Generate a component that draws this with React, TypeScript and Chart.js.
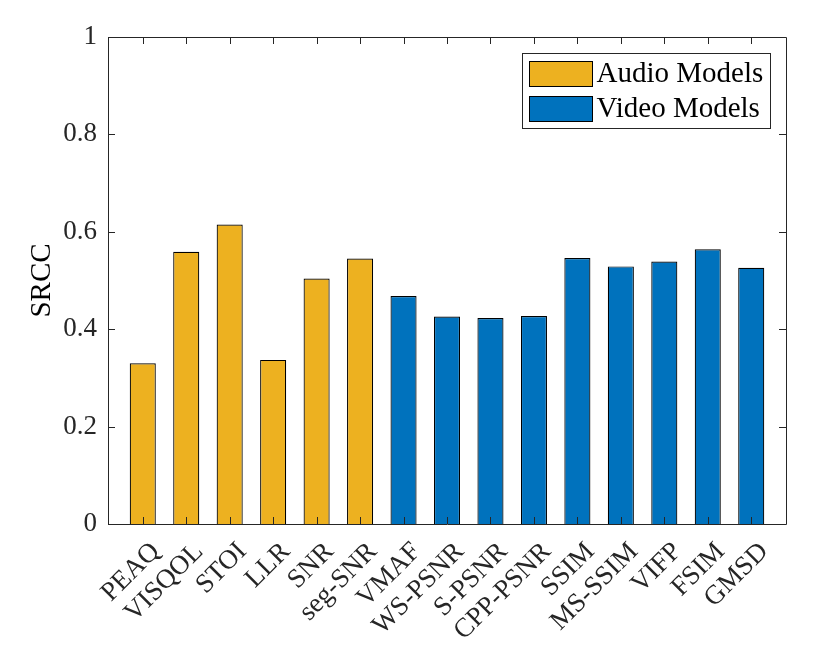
import { useEffect, useRef } from "react";
import { Chart, registerables } from "chart.js";

Chart.register(...registerables);

const audioModels = ["PEAQ", "VISQOL", "STOI", "LLR", "SNR", "seg-SNR"];
const audioSrcc = [0.33, 0.559, 0.615, 0.337, 0.504, 0.545];
const videoModels = ["VMAF", "WS-PSNR", "S-PSNR", "CPP-PSNR", "SSIM", "MS-SSIM", "VIFP", "FSIM", "GMSD"];
const videoSrcc = [0.468, 0.426, 0.423, 0.427, 0.546, 0.529, 0.539, 0.564, 0.526];
const yTicks = [0, 0.2, 0.4, 0.6, 0.8, 1];
const categories = [...audioModels, ...videoModels];

const SERIF = "'Liberation Serif', 'Times New Roman', serif";
const AXIS_COLOR = "#262626";

// matlab style box, inward ticks and legend inside the axes
const framePlugin = {
  id: "matlabFrame",
  afterDatasetsDraw(chart: any) {
    const { ctx, chartArea, scales } = chart;
    const { left, right, top, bottom } = chartArea;
    const x = scales.x;
    const y = scales.y;
    const tick = 7;
    ctx.save();
    ctx.strokeStyle = AXIS_COLOR;
    ctx.lineWidth = 1;
    ctx.beginPath();
    ctx.rect(Math.round(left) + 0.5, Math.round(top) + 0.5, Math.round(right - left), Math.round(bottom - top));
    x.ticks.forEach((t: any) => {
      const px = Math.round(x.getPixelForValue(t.value)) + 0.5;
      ctx.moveTo(px, bottom);
      ctx.lineTo(px, bottom - tick);
      ctx.moveTo(px, top);
      ctx.lineTo(px, top + tick);
    });
    y.ticks.forEach((t: any) => {
      const py = Math.round(y.getPixelForValue(t.value)) + 0.5;
      ctx.moveTo(left, py);
      ctx.lineTo(left + tick, py);
      ctx.moveTo(right, py);
      ctx.lineTo(right - tick, py);
    });
    ctx.stroke();

    // legend
    const datasets = chart.data.datasets;
    const boxW = 248;
    const rowH = 35;
    const boxH = 75;
    const bx = Math.round(right - 16 - boxW) + 0.5;
    const by = Math.round(top + 16) + 0.5;
    ctx.fillStyle = "#fff";
    ctx.fillRect(bx, by, boxW, boxH);
    ctx.strokeRect(bx, by, boxW, boxH);
    ctx.font = `29px ${SERIF}`;
    ctx.textBaseline = "middle";
    ctx.textAlign = "left";
    datasets.forEach((ds: any, i: number) => {
      const sy = by + 8 + i * rowH;
      ctx.fillStyle = ds.backgroundColor;
      ctx.fillRect(bx + 7, sy, 63, 25);
      ctx.strokeStyle = "#000";
      ctx.strokeRect(bx + 7, sy, 63, 25);
      ctx.fillStyle = "#000";
      ctx.fillText(ds.label, bx + 74, sy + 13);
    });
    ctx.restore();
  },
};

export default function App() {
  const chartRef = useRef<HTMLCanvasElement>(null);
  const chartInstance = useRef<Chart | null>(null);

  useEffect(() => {
    const ctx = chartRef.current?.getContext("2d");
    if (!ctx) return;

    if (chartInstance.current) {
      chartInstance.current.destroy();
    }

    chartInstance.current = new Chart(ctx, {
      type: "bar",
      data: {
        datasets: [
          {
            label: "Audio Models",
            data: audioSrcc.map((v, i) => ({ x: i + 1, y: v })),
            backgroundColor: "#EDB120",
            borderColor: "#000",
            borderWidth: 1.2,
            grouped: false,
            categoryPercentage: 1,
            barPercentage: 0.6,
          },
          {
            label: "Video Models",
            data: videoSrcc.map((v, i) => ({ x: audioModels.length + i + 1, y: v })),
            backgroundColor: "#0072BD",
            borderColor: "#000",
            borderWidth: 1.2,
            grouped: false,
            categoryPercentage: 1,
            barPercentage: 0.6,
          },
        ],
      },
      options: {
        animation: false,
        responsive: true,
        maintainAspectRatio: false,
        layout: { padding: { top: 37, right: 45, left: 0, bottom: 0 } },
        plugins: {
          legend: { display: false },
          tooltip: { enabled: false },
        },
        scales: {
          x: {
            type: "linear",
            min: 0.2,
            max: 15.8,
            offset: false,
            grid: { display: false, drawTicks: false },
            border: { display: false },
            afterBuildTicks: (scale: any) => {
              scale.ticks = categories.map((_, i) => ({ value: i + 1 }));
            },
            afterFit: (scale: any) => {
              scale.height = 130;
            },
            ticks: {
              autoSkip: false,
              minRotation: 45,
              maxRotation: 45,
              padding: 12,
              labelOffset: 13,
              color: AXIS_COLOR,
              font: { family: SERIF, size: 27 },
              callback: (v: any) => categories[Math.round(Number(v)) - 1],
            },
          },
          y: {
            min: 0,
            max: 1,
            grid: { display: false, drawTicks: false },
            border: { display: false },
            afterBuildTicks: (scale: any) => {
              scale.ticks = yTicks.map((v) => ({ value: v }));
            },
            afterFit: (scale: any) => {
              scale.width = 108;
            },
            ticks: {
              padding: 11,
              color: AXIS_COLOR,
              font: { family: SERIF, size: 27 },
              callback: (v: any) => String(v),
            },
            title: {
              display: true,
              text: "SRCC",
              color: "#000",
              font: { family: SERIF, size: 29 },
              padding: { top: 25, bottom: 0 },
            },
          },
        },
      },
      plugins: [framePlugin],
    });

    return () => {
      chartInstance.current?.destroy();
      chartInstance.current = null;
    };
  }, []);

  return (
    <div style={{ position: "absolute", left: 0, top: 0, width: 831, height: 654, background: "#fff" }}>
      <canvas ref={chartRef} />
    </div>
  );
}
